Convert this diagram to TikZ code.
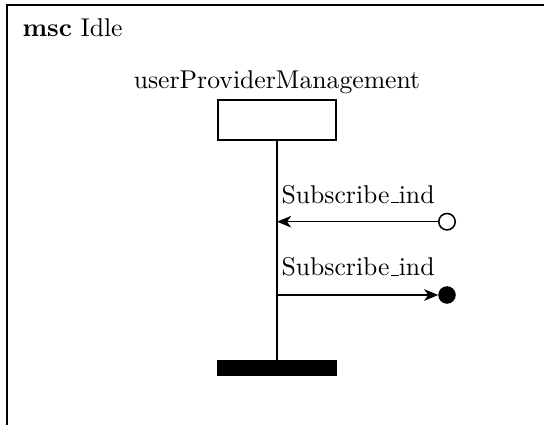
\documentclass[tikz,border=0pt]{standalone}
\usetikzlibrary{arrows.meta}
\newcommand{\cmunderscore}{\leavevmode\kern.06em\vbox{\hrule width.3em height 0.45pt}}
\begin{document}
\begin{tikzpicture}[x=0.389pt,y=-0.389pt,
 frame/.style={line width=0.7pt},
 instbox/.style={draw,line width=0.7pt,minimum width=45.9pt,minimum height=15.6pt,inner sep=0pt},
 endbar/.style={fill=black,draw=black,minimum width=45.9pt,minimum height=6.2pt,inner sep=0pt},
 msgarrow/.style={line width=0.6pt,-{Stealth[length=5.5pt,width=4.5pt,inset=1.6pt]}},
 opencirc/.style={circle,draw,line width=0.6pt,minimum size=6.4pt,inner sep=0pt,fill=white},
 fillcirc/.style={circle,fill=black,draw,minimum size=6.4pt,inner sep=0pt},
 lbl/.style={anchor=base west,inner sep=0pt}]
\useasboundingbox (0,0) rectangle (544,425);
\draw[frame] (7,430) -- (7,5) -- (550,5);
\node[lbl] (title) at (22,37) {\textbf{msc} Idle};
\node[anchor=base,inner sep=0pt] (iname) at (277,89) {userProviderManagement};
\node[instbox] (inst) at (277,120) {};
\node[endbar] (bar) at (277,368) {};
\draw[line width=0.7pt] (inst.south) -- (bar.north);
% message 1 (incoming from environment)
\coordinate (m1) at (277,221.7);
\node[opencirc] (c1) at (447,221.7) {};
\draw[msgarrow] (c1.west) -- (m1);
\node[lbl] (l1) at (281,203) {Subscribe\cmunderscore ind};
% message 2 (outgoing to environment)
\coordinate (m2) at (277,295);
\node[fillcirc] (c2) at (447,295) {};
\draw[msgarrow] (m2) -- (c2.west);
\node[lbl] (l2) at (281,276) {Subscribe\cmunderscore ind};
\end{tikzpicture}
\end{document}
